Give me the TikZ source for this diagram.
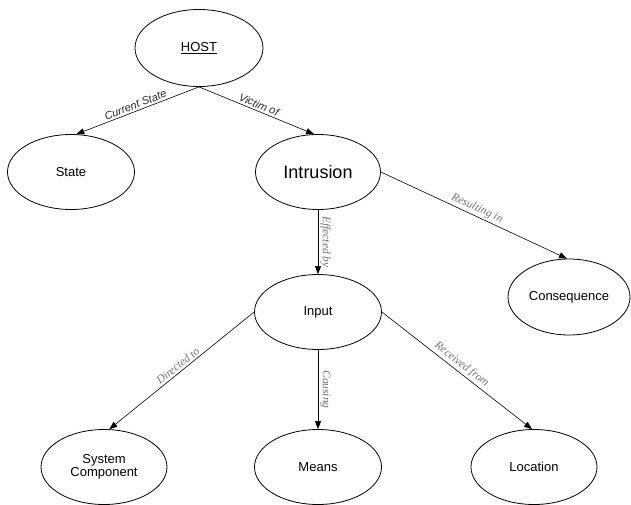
\documentclass[tikz,border=0pt]{standalone}
\usepackage{fontspec}
\setmainfont{Liberation Sans}
\newfontfamily\relserif{Liberation Serif}
\usetikzlibrary{arrows.meta,shapes.geometric}

\tikzset{
  concept/.style={ellipse,draw,thick,inner sep=0pt,minimum width=127pt,minimum height=76pt,
    font=\fontsize{13}{15}\selectfont,align=center},
  rel/.style={-{Triangle[length=8pt,width=6pt]},semithick},
  relsans/.style={midway,sloped,above,inner sep=2pt,font=\fontsize{11}{12}\selectfont\itshape,black!85},
  relserif/.style={midway,sloped,above,inner sep=2pt,font=\relserif\fontsize{11.5}{12}\selectfont\itshape,black!55}
}

\begin{document}
\begin{tikzpicture}[x=1pt,y=-1pt]
  \useasboundingbox (0,0) rectangle (631,505);
  % Concepts
  \node[concept,minimum width=128pt,minimum height=77pt] (host) at (199,48) {\underline{HOST}};
  \node[concept,minimum height=75pt] (state) at (71,172) {State};
  \node[concept,minimum width=125pt,minimum height=75pt,font=\fontsize{18}{20}\selectfont] (intrusion) at (318,172) {Intrusion};
  \node[concept,minimum width=122pt] (consequence) at (569,297) {Consequence};
  \node[concept,minimum height=75pt] (input) at (318,312) {Input};
  \node[concept,minimum width=126pt,minimum height=75pt] (syscomp) at (104,467) {System\\[-2pt]Component};
  \node[concept,minimum height=75pt] (means) at (318,467) {Means};
  \node[concept,minimum width=126pt,minimum height=75pt] (location) at (534,467) {Location};
  % Relations
  \draw[rel] (host.south) -- (state.82) node[relsans] {Current State};
  \draw[rel] (host.south) -- (intrusion.96) node[relsans] {Victim of};
  \draw[rel] (intrusion.east) -- (consequence.93) node[relserif] {Resulting in};
  \draw[rel] (intrusion.south) -- (input.north) node[relserif] {Effected by};
  \draw[rel] (input.west) -- (syscomp.82) node[relserif] {Directed to};
  \draw[rel] (input.south) -- (means.north) node[relserif] {Causing};
  \draw[rel] (input.east) -- (location.93) node[relserif] {Received from};
\end{tikzpicture}
\end{document}
